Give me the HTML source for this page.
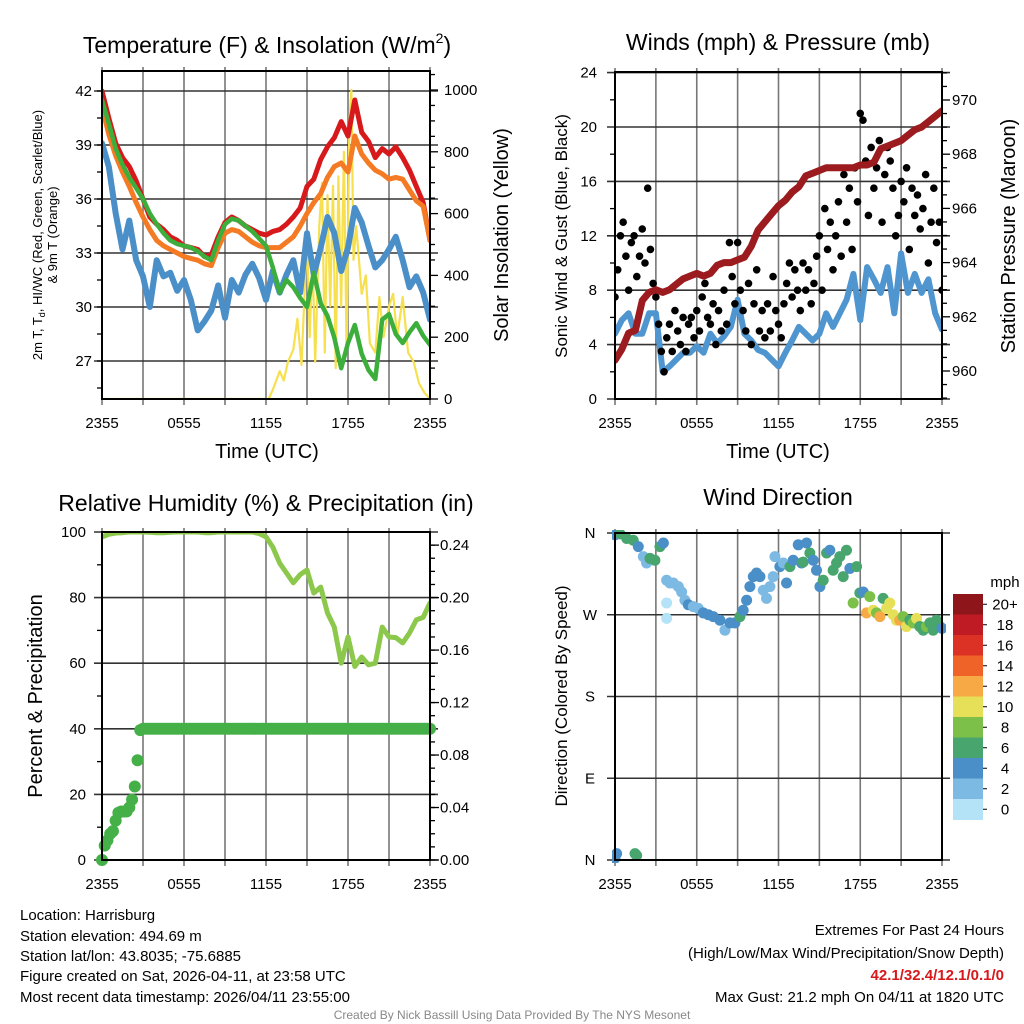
<!DOCTYPE html>
<html><head><meta charset="utf-8"><style>
body{margin:0;background:#fff;}
svg{display:block;font-family:"Liberation Sans",Arial,sans-serif;}
</style></head><body>
<svg id="fig" width="1024" height="1024" viewBox="0 0 1024 1024" xmlns="http://www.w3.org/2000/svg">
<defs>
<clipPath id="c1"><rect x="102" y="71" width="328" height="328"/></clipPath>
<clipPath id="c2"><rect x="615" y="72" width="327" height="327"/></clipPath>
<clipPath id="c3"><rect x="102" y="532" width="328" height="328"/></clipPath>
<clipPath id="c4"><rect x="612" y="530" width="334" height="333"/></clipPath>
</defs>
<g id="layer"></g>
<text x="267" y="53" font-size="23" text-anchor="middle">Temperature (F) &amp; Insolation (W/m<tspan font-size="14" dy="-10">2</tspan><tspan dy="10">)</tspan></text>
<text x="778" y="50" font-size="23" text-anchor="middle">Winds (mph) &amp; Pressure (mb)</text>
<text x="266" y="511" font-size="23" text-anchor="middle">Relative Humidity (%) &amp; Precipitation (in)</text>
<text x="778" y="505" font-size="23" text-anchor="middle">Wind Direction</text>
<text x="267" y="458" font-size="20" text-anchor="middle">Time (UTC)</text>
<text x="778" y="458" font-size="20" text-anchor="middle">Time (UTC)</text>
<text transform="translate(42,235) rotate(-90)" font-size="13" text-anchor="middle">2m T, T<tspan font-size="9" dy="3">d</tspan><tspan dy="-3">, HI/WC (Red, Green, Scarlet/Blue)</tspan></text>
<text transform="translate(57,235) rotate(-90)" font-size="13" text-anchor="middle">&amp; 9m T (Orange)</text>
<text transform="translate(508,235) rotate(-90)" font-size="20" text-anchor="middle">Solar Insolation (Yellow)</text>
<text transform="translate(567,236) rotate(-90)" font-size="17" text-anchor="middle">Sonic Wind &amp; Gust (Blue, Black)</text>
<text transform="translate(1015,236) rotate(-90)" font-size="20" text-anchor="middle">Station Pressure (Maroon)</text>
<text transform="translate(42,696) rotate(-90)" font-size="20" text-anchor="middle">Percent &amp; Precipitation</text>
<text transform="translate(567,696) rotate(-90)" font-size="17" text-anchor="middle">Direction (Colored By Speed)</text>
<g font-size="15">
<text x="20" y="920">Location: Harrisburg</text>
<text x="20" y="941">Station elevation: 494.69 m</text>
<text x="20" y="961">Station lat/lon: 43.8035; -75.6885</text>
<text x="20" y="981">Figure created on Sat, 2026-04-11, at 23:58 UTC</text>
<text x="20" y="1002">Most recent data timestamp: 2026/04/11 23:55:00</text>
</g>
<g font-size="15" text-anchor="end">
<text x="1004" y="935">Extremes For Past 24 Hours</text>
<text x="1004" y="958">(High/Low/Max Wind/Precipitation/Snow Depth)</text>
<text x="1004" y="980" fill="#d7191c" font-weight="bold">42.1/32.4/12.1/0.1/0</text>
<text x="1004" y="1002">Max Gust: 21.2 mph On 04/11 at 1820 UTC</text>
</g>
<text x="512" y="1019" font-size="12" fill="#888" text-anchor="middle">Created By Nick Bassill Using Data Provided By The NYS Mesonet</text>
</svg>
<script>
// ---------- data ----------
const xTickLabels = ["2355","0555","1155","1755","2355"];
const tempTicks = [27,30,33,36,39,42];
const solarTicks = [0,200,400,600,800,1000];
const windTicks = [0,4,8,12,16,20,24];
const pressTicks = [960,962,964,966,968,970];
const rhTicks = [0,20,40,60,80,100];
const precipTicks = ["0.00","0.04","0.08","0.12","0.16","0.20","0.24"];
const dirTickLabels = ["N","E","S","W","N"];
const speedLabels = ["0","2","4","6","8","10","12","14","16","18","20+"];
const speedColors = ["#b4e2f7","#7cb9e3","#4a8fc7","#48a56e","#7cc04a","#e6e058","#f6a945","#ef6329","#dc3125","#bf1b25","#8e1519"];

const tempRed = [42.0,40.5,39.1,38.3,37.8,37.0,36.0,35.0,34.6,34.3,33.9,33.7,33.4,33.3,33.2,32.8,32.9,33.9,34.7,35.0,34.8,34.5,34.3,34.1,34.0,34.2,34.3,34.6,35.0,35.5,36.7,37.1,38.2,38.9,39.4,40.3,39.5,41.5,39.7,39.2,38.3,38.8,38.5,38.9,38.3,37.6,36.7,35.8,33.7];
const temp9m = [41.1,39.6,38.4,37.5,36.7,35.8,35.0,34.3,33.7,33.4,33.2,33.0,32.8,32.7,32.6,32.4,32.3,33.3,34.1,34.3,34.2,33.9,33.6,33.4,33.3,33.3,33.3,33.6,33.9,34.5,35.2,35.8,36.3,37.2,37.8,38.0,37.5,39.5,38.5,38.0,37.6,37.4,37.1,37.2,37.1,36.5,35.9,35.6,33.7];
const heatIndex = [41.5,40.2,38.8,37.9,37.2,36.6,36.0,35.2,34.6,34.1,33.7,33.5,33.4,33.3,33.1,32.8,32.6,33.7,34.6,34.9,34.8,34.5,34.2,33.8,33.4,32.2,30.8,31.5,31.1,30.5,30.0,31.9,30.2,29.5,28.3,26.6,28.0,29.0,27.4,26.5,26.0,29.3,29.6,28.5,28.0,28.6,29.1,28.4,27.9];
const dewpoint = [39.1,37.8,35.2,33.2,34.8,32.6,31.7,30.0,32.6,31.7,31.9,30.9,31.5,30.4,28.7,29.2,29.8,31.2,29.4,31.5,30.8,31.8,32.4,31.6,30.4,32.0,30.8,31.8,32.6,30.8,34.1,31.8,33.3,35.0,34.1,32.0,33.3,35.5,34.7,33.4,32.2,32.6,33.2,33.9,32.6,31.1,31.7,30.8,29.3];
const solarHours = [0,12.2,12.5,13,13.3,13.6,14,14.3,14.6,15,15.2,15.4,15.6,15.9,16.1,16.3,16.5,16.7,16.9,17.1,17.3,17.5,17.7,17.9,18.1,18.25,18.4,18.6,19,19.3,19.6,20,20.3,20.6,21,21.3,21.6,22,22.4,22.8,23.2,23.6,24];
const solarVals = [0,0,30,90,60,120,160,260,110,530,200,460,120,560,700,150,660,300,690,100,720,300,800,150,900,1000,450,560,340,400,180,150,330,200,300,340,200,330,150,120,50,20,0];

const windSpeed = [4.8,5.8,6.3,4.8,4.8,6.3,6.3,2.0,2.4,2.9,3.4,3.4,3.9,3.4,4.8,4.1,4.6,5.3,7.3,4.8,4.3,3.6,3.4,2.9,2.4,3.4,4.3,5.3,4.8,4.3,4.8,6.3,5.3,6.3,7.3,9.2,5.8,9.7,8.8,7.8,9.7,6.3,10.7,7.8,9.2,7.8,8.8,6.3,5.1];
const windGust = [7.5,9.5,12,13,10.5, 8,11.5,12,9,10.5, 12.5,10,15.5,11,8.5, 7.5,5.5,3.5,2,4.5, 5.5,3.5,6.5,5,4, 6,3.5,5.5,6,4.5, 6.5,5,7.5,8.5,6, 5.5,7,4,6.5,5, 8,5.5,11.5,9,7, 11.5,8,6.5,5,8.5, 4,7,9.5,5,6.5, 4.5,7,5,9,6.5, 5.5,4.5,7,8.5,10, 7.5,9.5,8,6.5,10, 8,9.5,7,8.5,10.5, 12,8,14,11,13, 9.5,12,14.5,10.5,16.5, 13,15.5,11,17,14.5, 21,20.5,17.5,13.5,18.5, 15.5,17,19,13,16.5, 18.5,17.5,15.5,12,13.5, 16,14.5,17,11,15.5, 13.5,15,12.5,14,16.5, 10,13,15.5,11.5,13, 8];
const pressure = [960.4,960.8,961.4,961.5,962.6,962.9,963.0,962.9,963.0,963.2,963.4,963.5,963.6,963.5,963.6,963.9,964.0,964.0,964.1,964.2,964.6,965.2,965.5,965.8,966.1,966.3,966.6,966.8,967.2,967.3,967.4,967.5,967.5,967.5,967.5,967.5,967.6,967.6,967.7,968.2,968.3,968.4,968.5,968.7,968.9,969.0,969.2,969.4,969.6];

const relHum = [98.5,99.3,99.7,99.8,100,100,100,99.9,99.8,99.8, 99.9,100,100,100,100,99.8,99.8,100,100,100, 100,100,100,99.5,98.5,95.4,90.5,87.5,84.5,87.0, 88.4,81.4,83.2,75.3,71.0,60.0,68.0,59.0,61.9,59.5, 60.0,71.0,68.0,67.8,66.2,69.2,73.2,74.0,78.4];
const precip = [0.0,0.011,0.015,0.02,0.022,0.03,0.036,0.037,0.037,0.037,0.04,0.046,0.056,0.076,0.099,
0.1,0.1,0.1,0.1,0.1,0.1,0.1,0.1,0.1,0.1,0.1,0.1,0.1,0.1,0.1,0.1,0.1,0.1,0.1,0.1,0.1,0.1,0.1,0.1,0.1,0.1,0.1,0.1,0.1,0.1,0.1,0.1,0.1,0.1,0.1,0.1,0.1,0.1,0.1,0.1,
0.1,0.1,0.1,0.1,0.1,0.1,0.1,0.1,0.1,0.1,0.1,0.1,0.1,0.1,0.1,0.1,0.1,0.1,0.1,0.1,0.1,0.1,0.1,0.1,0.1,0.1,0.1,0.1,0.1,0.1,0.1,0.1,0.1,0.1,0.1,0.1,0.1,0.1,0.1,0.1,
0.1,0.1,0.1,0.1,0.1,0.1,0.1,0.1,0.1,0.1,0.1,0.1,0.1,0.1,0.1,0.1,0.1,0.1,0.1,0.1,0.1,0.1,0.1,0.1,0.1,0.1];

const dirHours = [0,0.37,0.86,1.34,1.71,2.08,2.32,2.57,2.93,3.30,3.55,3.79,4.03,4.28,4.65,4.89,5.13,5.38,5.75,6.11,6.48,6.85,7.21,7.70,8.07,8.44,8.80,9.17,9.41,9.66,9.90,10.15,10.39,10.64,10.88,11.12,11.37,11.61,11.74,12.10,12.35,12.59,12.84,13.08,13.45,13.69,13.81,14.06,14.30,14.55,14.79,15.04,15.28,15.53,15.77,16.01,16.26,16.50,16.75,16.99,17.24,17.48,17.73,17.97,18.22,18.46,18.70,18.95,19.19,19.44,19.68,19.93,20.17,20.42,20.66,20.90,21.15,21.39,21.64,21.88,22.13,22.37,22.62,22.86,23.11,23.35,23.59,23.84,24,0,0.12,1.47,1.59,3.79,3.79];
const dirVals = [358,359,354,352,345,334,327,332,330,345,349,308,305,305,301,295,286,281,279,277,272,270,268,264,253,261,261,268,275,286,301,312,316,312,297,288,301,312,334,323,327,305,323,330,347,327,328,349,338,330,319,301,308,338,341,319,327,334,312,341,321,283,323,294,295,272,290,275,272,268,288,277,283,270,264,264,268,257,264,261,266,257,253,257,261,253,264,257,255,2,7,7,5,283,266];
const dirSpeeds = [5,7,7,7,5,3,3,7,7,7,5,3,3,3,3,3,3,5,3,3,5,5,5,5,3,5,5,7,5,5,5,5,5,5,3,3,3,3,3,5,3,5,7,5,5,5,7,5,7,5,5,5,7,7,5,7,7,7,7,7,5,9,7,7,5,13,9,11,9,13,7,11,11,11,11,13,9,11,7,9,11,7,7,9,7,7,7,7,5,5,5,7,7,1,1];

// ---------- helpers ----------
const NS = "http://www.w3.org/2000/svg";
const layer = document.getElementById('layer');
function mk(tag, attrs, parent){ const e=document.createElementNS(NS,tag); for(const k in attrs) e.setAttribute(k,attrs[k]); (parent||layer).appendChild(e); return e; }
function gridIdx(arr,i){ return i*24/(arr.length-1); }

const panels = {
 p1:{x0:102,x1:430,y0:71,y1:399},
 p2:{x0:615,x1:942,y0:72,y1:399},
 p3:{x0:102,x1:430,y0:532,y1:860},
 p4:{x0:615,x1:942,y0:533,y1:860}
};
function xs(p,h){ return p.x0 + h/24*(p.x1-p.x0); }
const yTemp = t => 91 + (42-t)*18;
const ySolar = w => 399 - w*0.309;
const yWind = v => 399 - v*13.6;
const yPress = p => 371 - (p-960)*27.1;
const yRH = r => 860 - r*3.28;
const yPrecip = p => 860 - p/0.25*328;
const yDir = d => 860 - d/360*327;

function vgrid(p, name){
  for(let i=0;i<=8;i++){
    const x=xs(p,i*3);
    const l=mk('line',{x1:x,x2:x,y1:p.y0-4,y2:p.y1+6,stroke:'#777','stroke-width':1.6});
    
    
  }
  xTickLabels.forEach((s,i)=>{
    const t=mk('text',{x:xs(p,i*6),y:p.y1+29,'font-size':15,'text-anchor':'middle'});
    t.textContent=s;
    
    
  });
}
function hline(p,y,name){
  const l=mk('line',{x1:p.x0-8,x2:p.x1+8,y1:y,y2:y,stroke:'#333','stroke-width':1.6});
  
  
}
function tick(x,y,len){ mk('line',{x1:x,x2:x+len,y1:y,y2:y,stroke:'#000','stroke-width':1.3}); }
function label(x,y,s,anchor,name){
  const t=mk('text',{x:x,y:y+5,'font-size':15,'text-anchor':anchor});
  t.textContent=s;
  
  
}
function frame(p,name){
  const r=mk('rect',{x:p.x0,y:p.y0,width:p.x1-p.x0,height:p.y1-p.y0,fill:'none',stroke:'#000','stroke-width':2});
  
  
}
function poly(vals, yf, p, clip, color, w, name, hours){
  let d='';
  vals.forEach((v,i)=>{ const h = hours? hours[i] : gridIdx(vals,i); d += (i?'L':'M')+xs(p,h).toFixed(1)+','+yf(v).toFixed(1); });
  const e=mk('path',{d:d,fill:'none',stroke:color,'stroke-width':w,'stroke-linejoin':'round','stroke-linecap':'round','clip-path':'url(#'+clip+')'});
  
  
  return e;
}

// ---------- panel 1 ----------
(function(){
  const p=panels.p1;
  vgrid(p,'temperature');
  tempTicks.forEach(t=>{ hline(p,yTemp(t),'temperature-gridline'); label(92,yTemp(t),String(t),'end','temperature-tick-label'); });
  for(let t=25.5;t<43;t+=1.5){ tick(p.x0-5,yTemp(t),5); }
  for(let w=0;w<=1050;w+=50){ tick(p.x1,ySolar(w),w%200===0?8:5); }
  solarTicks.forEach(w=>label(444,ySolar(w),String(w),'start','solar-tick-label'));
  poly(solarVals,ySolar,p,'c1','#f7e04f',2.2,'solar-insolation-line',solarHours);
  poly(dewpoint,yTemp,p,'c1','#4a8fc7',6,'dewpoint-line');
  poly(tempRed,yTemp,p,'c1','#d7191c',5,'temperature-2m-line');
  poly(temp9m,yTemp,p,'c1','#f47a24',5,'temperature-9m-line');
  poly(heatIndex,yTemp,p,'c1','#3cae3c',4.5,'heat-index-line');
  frame(p,'temperature-panel');
})();

// ---------- panel 2 ----------
(function(){
  const p=panels.p2;
  vgrid(p,'winds');
  windTicks.forEach(v=>{ hline(p,yWind(v),'wind-gridline'); label(597,yWind(v),String(v),'end','wind-tick-label'); });
  for(let v=2;v<24;v+=4){ tick(p.x0-5,yWind(v),5); }
  for(let q=959;q<=971;q+=0.5){ tick(p.x1,yPress(q),Number.isInteger(q)&&q%2===0?8:5); }
  pressTicks.forEach(q=>label(952,yPress(q),String(q),'start','pressure-tick-label'));
  poly(windSpeed,yWind,p,'c2','#4f95d0',6,'sonic-wind-line');
  windGust.forEach((g,i)=>{
    const c=mk('circle',{cx:xs(p,gridIdx(windGust,i)),cy:yWind(g),r:3.8,fill:'#000','clip-path':'url(#c2)'});
    
    
  });
  poly(pressure,yPress,p,'c2','#9b1b1e',7,'pressure-line');
  frame(p,'winds-panel');
})();

// ---------- panel 3 ----------
(function(){
  const p=panels.p3;
  vgrid(p,'humidity');
  rhTicks.forEach(r=>{ hline(p,yRH(r),'humidity-gridline'); label(86,yRH(r),String(r),'end','humidity-tick-label'); });
  for(let r=10;r<100;r+=20){ tick(p.x0-5,yRH(r),5); }
  for(let q=0;q<=0.25;q+=0.01){ tick(p.x1,yPrecip(q),5); }
  precipTicks.forEach(s=>{ tick(p.x1,yPrecip(parseFloat(s)),9); label(440,yPrecip(parseFloat(s)),s,'start','precip-tick-label'); });
  poly(relHum,yRH,p,'c3','#8cc84b',5,'relative-humidity-line');
  precip.forEach((v,i)=>{
    const c=mk('circle',{cx:xs(p,gridIdx(precip,i)),cy:yPrecip(v),r:6,fill:'#45b048'});
    
    
  });
  frame(p,'humidity-panel');
})();

// ---------- panel 4 ----------
(function(){
  const p=panels.p4;
  vgrid(p,'direction');
  dirTickLabels.forEach((s,i)=>{ hline(p,yDir(i*90),'direction-gridline'); label(590,yDir(i*90),s,'middle','direction-tick-label'); });
  dirHours.forEach((h,i)=>{
    const col = speedColors[Math.min(10,Math.floor(dirSpeeds[i]/2))];
    const c=mk('circle',{cx:xs(p,h),cy:yDir(dirVals[i]),r:5.5,fill:col,'clip-path':'url(#c4)'});
    
    
  });
  frame(p,'direction-panel');
  // colorbar
  const bx=953,bw=30,by=594,bh=20.5;
  const n=speedColors.length;
  for(let i=0;i<n;i++){
    const r=mk('rect',{x:bx,y:by+i*bh,width:bw,height:bh+0.5,fill:speedColors[n-1-i]});
    
    
    const t=mk('text',{x:1005,y:by+i*bh+bh/2+5,'font-size':15,'text-anchor':'middle'});
    t.textContent=speedLabels[n-1-i];
    
    
    mk('line',{x1:bx+bw,x2:bx+bw+4,y1:by+i*bh+bh/2,y2:by+i*bh+bh/2,stroke:'#000','stroke-width':1});
  }
  const m=mk('text',{x:1005,y:587,'font-size':15,'text-anchor':'middle'});
  m.textContent='mph';
  
  
})();
</script>
</body></html>
